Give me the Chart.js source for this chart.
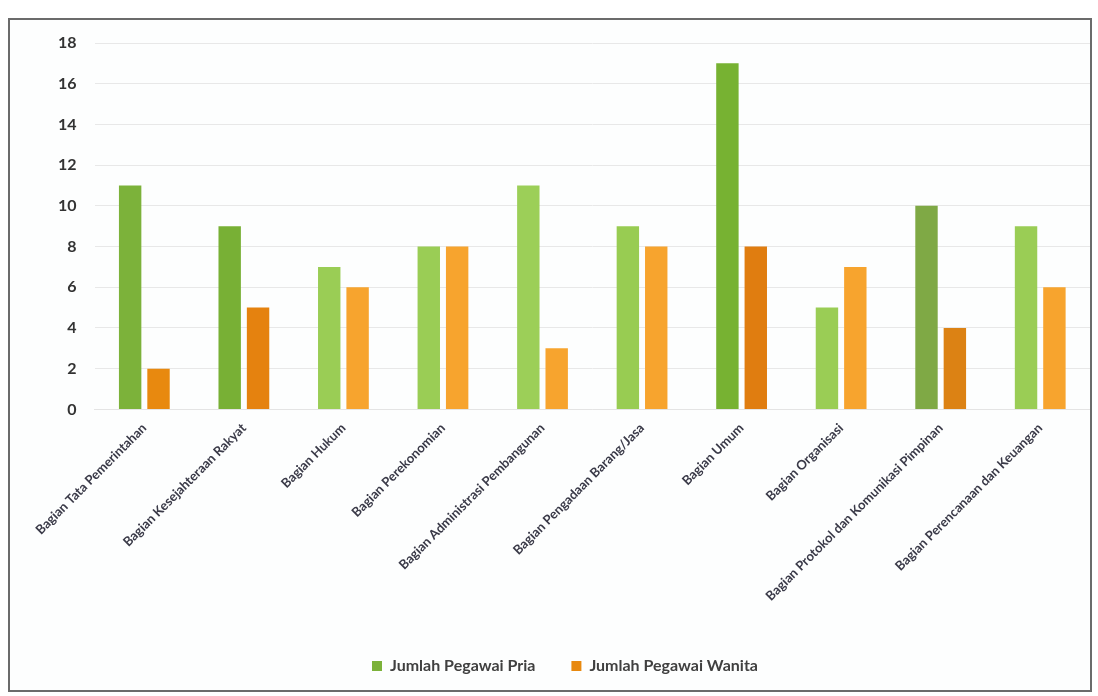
<!DOCTYPE html>
<html>
<head>
<meta charset="utf-8">
<script src="https://cdn.jsdelivr.net/npm/chart.js@4/dist/chart.umd.min.js"></script>
<style>
    body { margin: 0; background: #ffffff; }
    #kotak {
        position: absolute; left: 8px; top: 18px; width: 1080px; height: 670px;
        border: 2px solid #6b6b6b; background: #fdfefe;
    }
    canvas { display: block; }
</style>
</head>
<body>
<div id="kotak"><canvas id="grafik" width="1080" height="670"></canvas></div>
<script>
// data jumlah pegawai per bagian
const bagian = [
    'Bagian Tata Pemerintahan',
    'Bagian Kesejahteraan Rakyat',
    'Bagian Hukum',
    'Bagian Perekonomian',
    'Bagian Administrasi Pembangunan',
    'Bagian Pengadaan Barang/Jasa',
    'Bagian Umum',
    'Bagian Organisasi',
    'Bagian Protokol dan Komunikasi Pimpinan',
    'Bagian Perencanaan dan Keuangan'
];
const pegawaiPria   = [11, 9, 7, 8, 11, 9, 17, 5, 10, 9];
const pegawaiWanita = [2, 5, 6, 8, 3, 8, 8, 7, 4, 6];
const tickY = [0, 2, 4, 6, 8, 10, 12, 14, 16, 18];

// warna hasil scan: ada batang yang lebih gelap
const warnaPria   = ['#7cb23a', '#78b035', '#9acd55', '#9acd55', '#9ccf58', '#98cc52', '#77b232', '#9acd55', '#7fa945', '#9acd55'];
const warnaWanita = ['#e8890f', '#e5820f', '#f7a42e', '#f7a42e', '#f7a42e', '#f7a42e', '#e07d10', '#f7a42e', '#dc8214', '#f7a42e'];

function warnaBatang(arr, dasar) {
    return function(ctx) {
        if (ctx.type === 'data') return arr[ctx.dataIndex];
        return dasar;
    };
}

const ctx = document.getElementById('grafik').getContext('2d');
new Chart(ctx, {
    type: 'bar',
    data: {
        labels: bagian,
        datasets: [
            {
                label: 'Jumlah Pegawai Pria',
                data: pegawaiPria,
                backgroundColor: warnaBatang(warnaPria, '#7cb23a'),
                categoryPercentage: 0.57,
                barPercentage: 0.79
            },
            {
                label: 'Jumlah Pegawai Wanita',
                data: pegawaiWanita,
                backgroundColor: warnaBatang(warnaWanita, '#f29a1f'),
                categoryPercentage: 0.57,
                barPercentage: 0.79
            }
        ]
    },
    options: {
        responsive: false,
        animation: false,
        layout: { padding: { left: 30, right: 0, top: 23, bottom: 6 } },
        plugins: {
            tooltip: { enabled: false },
            legend: {
                position: 'bottom',
                labels: {
                    boxWidth: 10, boxHeight: 10, padding: 36,
                    color: '#404040',
                    font: { family: 'Lato', size: 16, weight: 'bold' }
                }
            }
        },
        scales: {
            x: {
                grid: { display: false },
                border: { color: '#e4e4e4' },
                afterFit: function(scale) { scale.height += 15; },
                ticks: {
                    minRotation: 45, maxRotation: 45, autoSkip: false,
                    color: '#3a3a48',
                    font: { family: 'Lato', size: 13, weight: 'bold' }
                }
            },
            y: {
                min: 0, max: 18,
                afterBuildTicks: function(axis) {
                    axis.ticks = tickY.map(v => ({ value: v }));
                },
                afterFit: function(scale) { scale.paddingTop = 0; },
                grid: { color: '#e8e8e8', drawTicks: false },
                border: { display: false },
                ticks: {
                    padding: 18,
                    color: '#333333',
                    font: { family: 'Lato', size: 16, weight: 'bold' }
                }
            }
        }
    }
});
</script>
</body>
</html>
